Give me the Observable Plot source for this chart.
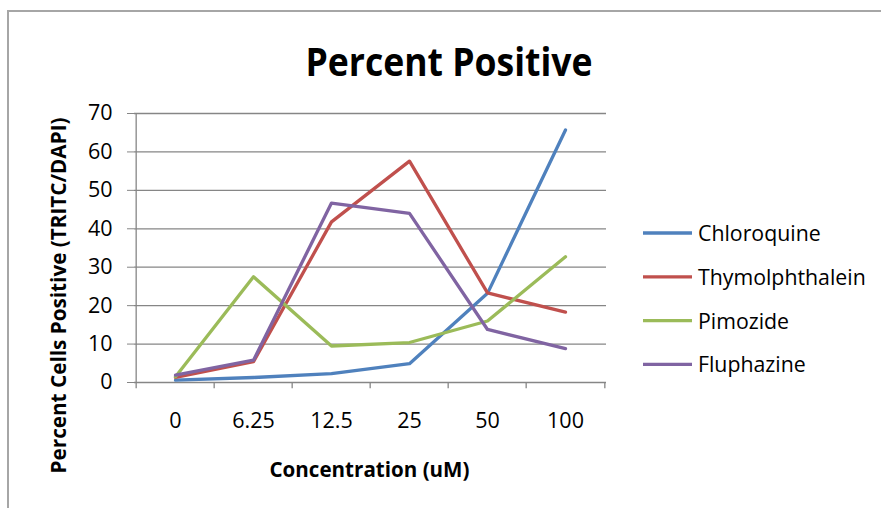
<!DOCTYPE html>
<html>
<head>
<meta charset="utf-8">
<script src="https://cdn.jsdelivr.net/npm/d3@7"></script>
<script src="https://cdn.jsdelivr.net/npm/@observablehq/plot@0.6"></script>
<style>
  html, body { margin: 0; padding: 0; background: #fff; }
  #chart svg { display: block; }
</style>
</head>
<body>
<div id="chart"></div>
<script>
// Concentrations (uM), drawn as evenly spaced categories
const categories = ["0", "6.25", "12.5", "25", "50", "100"];

// Percent of cells positive (TRITC/DAPI) per compound
const chloroquine     = [0.6, 1.3, 2.3, 4.9, 23.2, 65.7];
const thymolphthalein = [1.3, 5.4, 41.8, 57.6, 23.3, 18.3];
const pimozide        = [1.5, 27.5, 9.5, 10.4, 16.0, 32.7];
const fluphazine      = [1.9, 5.8, 46.7, 44.0, 13.8, 8.8];

const seriesNames  = ["Chloroquine", "Thymolphthalein", "Pimozide", "Fluphazine"];
const seriesValues = [chloroquine, thymolphthalein, pimozide, fluphazine];
const seriesColors = ["#4F81BD", "#C0504D", "#9BBB59", "#8064A2"];

const yTicks = [0, 10, 20, 30, 40, 50, 60, 70];

const chartTitle = "Percent Positive";
const xTitle = "Concentration (uM)";
const yTitle = "Percent Cells Positive (TRITC/DAPI)";

// Long-format rows for the line mark
const rows = seriesNames.flatMap((name, i) =>
  categories.map((c, j) => ({series: name, conc: c, value: seriesValues[i][j]}))
);

const W = 881, H = 508;
const mL = 134, mR = 275, mT = 113, mB = 126;
const step = (W - mL - mR) / categories.length;
const axisGray = "#868686";

const chart = Plot.plot({
  width: W,
  height: H,
  marginTop: mT,
  marginBottom: mB,
  marginLeft: mL,
  marginRight: mR,
  style: {fontFamily: "'Open Sans', sans-serif", background: "#fff", overflow: "visible"},
  x: {type: "point", domain: categories, padding: 0.5, label: null},
  y: {domain: [0, 70], label: null},
  color: {domain: seriesNames, range: seriesColors},
  marks: [
    Plot.gridY(yTicks.filter(d => d > 0), {stroke: axisGray, strokeOpacity: 1, strokeWidth: 1.3}),
    Plot.axisY(yTicks, {tickSize: 7, tickPadding: 15, fontSize: 21.5, stroke: axisGray, fill: "#000", label: null}),
    Plot.axisX({tickSize: 0, tickPadding: 30, fontSize: 21.5, fill: "#000", label: null}),
    // axis lines
    Plot.ruleY([0], {stroke: axisGray, strokeWidth: 1.3}),
    Plot.ruleX(categories.slice(0, 1), {x: d => d, dx: -step / 2, y1: 0, y2: 70, stroke: axisGray, strokeWidth: 1.3}),
    // category boundary ticks below the x axis
    Plot.ruleX(categories, {x: d => d, dx: -step / 2, y1: 0, y2: -1.6, stroke: axisGray, strokeWidth: 1.3}),
    Plot.ruleX(categories.slice(-1), {x: d => d, dx: step / 2, y1: 0, y2: -1.6, stroke: axisGray, strokeWidth: 1.3}),
    // series
    Plot.line(rows, {x: "conc", y: "value", z: "series", stroke: "series", strokeWidth: 3.3, strokeLinejoin: "round", strokeLinecap: "round"}),
    // titles
    Plot.text([chartTitle], {frameAnchor: "top", dx: 78.5, dy: -38, lineAnchor: "bottom", fontSize: 40, fontWeight: "bold", fill: "#000", className: "chart-title"}),
    Plot.text([xTitle], {frameAnchor: "bottom", dx: -1, dy: 94, lineAnchor: "bottom", fontSize: 21, fontWeight: "bold", fill: "#000", className: "x-title"}),
    Plot.text([yTitle], {frameAnchor: "left", textAnchor: "middle", dx: -69, dy: 47.5, rotate: -90, lineAnchor: "bottom", fontSize: 20.5, fontWeight: "bold", fill: "#000", className: "y-title"})
  ]
});

const svg = d3.select(chart);
svg.select(".chart-title text").attr("textLength", 287).attr("lengthAdjust", "spacingAndGlyphs");
svg.select(".x-title text").attr("textLength", 200).attr("lengthAdjust", "spacingAndGlyphs");
svg.select(".y-title text").attr("textLength", 356).attr("lengthAdjust", "spacingAndGlyphs");

// chart-area border (top and left edges)
svg.append("path")
  .attr("d", `M8,${H} V11 H${W}`)
  .attr("fill", "none")
  .attr("stroke", "#a6a6a6")
  .attr("stroke-width", 2);

// legend
const legend = svg.append("g")
  .attr("font-family", "'Open Sans', sans-serif")
  .attr("font-size", 21.3)
  .attr("text-anchor", "start");
seriesNames.forEach((name, i) => {
  const y = 233 + i * 43.8;
  legend.append("line")
    .attr("x1", 643).attr("x2", 692).attr("y1", y).attr("y2", y)
    .attr("stroke", seriesColors[i]).attr("stroke-width", 3.3);
  legend.append("text")
    .attr("x", 698).attr("y", y + 8)
    .attr("fill", "#000")
    .text(name);
});

document.getElementById("chart").appendChild(chart);
</script>
</body>
</html>
